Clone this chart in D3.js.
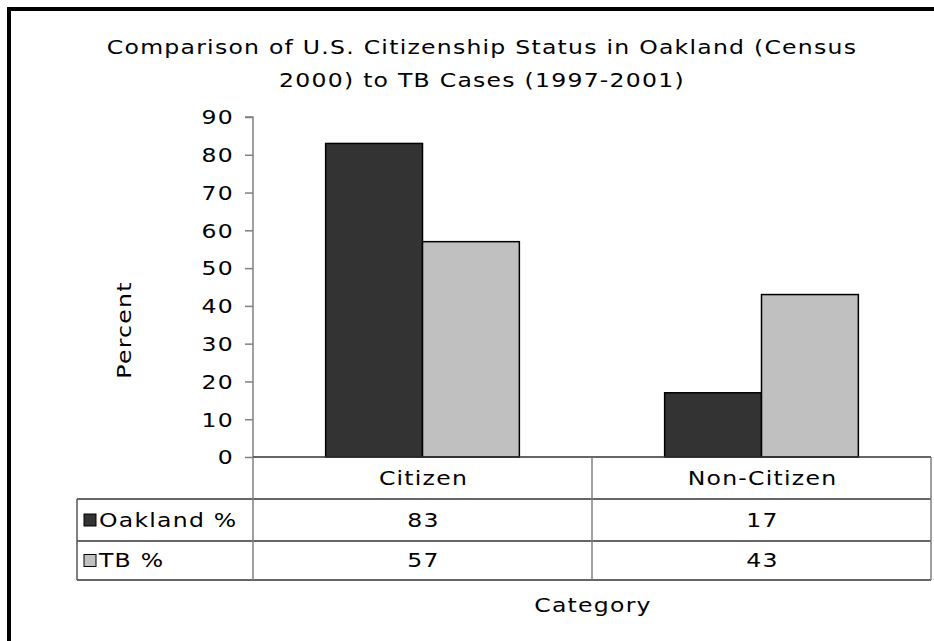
<!DOCTYPE html>
<html>
<head>
<meta charset="utf-8">
<script src="https://cdn.jsdelivr.net/npm/d3@7"></script>
<style>
  body { margin: 0; background: #fff; }
  text { font-family: "DejaVu Sans", Verdana, sans-serif; fill: #000; font-size: 19px; letter-spacing: 1px; }
</style>
</head>
<body>
<div id="chart"></div>
<script>
// Chart data
const categories = ['Citizen', 'Non-Citizen']
const seriesNames = ['Oakland %', 'TB %']
const oakland = [83, 17]
const tb = [57, 43]
const colors = ['#333333', '#c0c0c0']
const yTicks = [0, 10, 20, 30, 40, 50, 60, 70, 80, 90]

var width = 934
var height = 641

// plot area edges
var plotLeft = 253, plotRight = 931, plotTop = 117, plotBottom = 457
var rowH = [42, 42, 39] // category row, then one row per series
var sx = 1.24 // the old chart's text is wide, stretch it sideways

var svg = d3.select('#chart')
  .append('svg')
  .attr('width', width)
  .attr('height', height)

// put a stretched label at x, y
function label(x, y, str, anchor, rot) {
  const g = svg.append('g')
    .attr('transform', `translate(${x},${y})` + (rot ? ` rotate(${rot})` : '') + ` scale(${sx},1)`)
  return g.append('text')
    .attr('text-anchor', anchor || 'start')
    .text(str)
}

// outer frame (runs off the right and bottom of the picture)
svg.append('rect')
  .attr('x', 9).attr('y', 9)
  .attr('width', 960).attr('height', 660)
  .attr('fill', 'none')
  .attr('stroke', '#000')
  .attr('stroke-width', 4)

// title
label(482, 54, 'Comparison of U.S. Citizenship Status in Oakland (Census', 'middle')
label(482, 87, '2000) to TB Cases (1997-2001)', 'middle')

// scales
const xScale = d3.scaleBand()
  .domain(categories)
  .range([plotLeft, plotRight])

const inner = d3.scaleBand()
  .domain(seriesNames)
  .range([0, xScale.bandwidth()])
  .paddingOuter(0.75)
  .paddingInner(0)

const yScale = d3.scaleLinear()
  .domain([0, 90])
  .range([plotBottom, plotTop])

// y axis
const yAxis = d3.axisLeft(yScale)
  .tickValues(yTicks)
  .tickSize(8)
  .tickPadding(4)
const gy = svg.append('g')
  .attr('transform', `translate(${plotLeft},0)`)
  .call(yAxis)
gy.select('.domain').attr('stroke', '#808080').attr('stroke-width', 1.5)
  .attr('d', `M-8,${plotTop}H0V${plotBottom}`)
gy.selectAll('.tick line').attr('stroke', '#808080').attr('stroke-width', 1.5)
gy.selectAll('.tick text')
  .style('font-size', '19px')
  .style('font-family', '"DejaVu Sans", Verdana, sans-serif')
  .attr('fill', '#000')
  .attr('x', -19 / sx)
  .attr('dy', '0.36em')
  .attr('transform', `scale(${sx},1)`)

// y axis title
label(131, 330, 'Percent', 'middle', -90)

// bars
const series = [oakland, tb]
series.forEach((vals, si) => {
  svg.selectAll('.bar' + si)
    .data(categories)
    .enter()
    .append('rect')
    .attr('x', d => xScale(d) + inner(seriesNames[si]))
    .attr('y', (d, i) => yScale(vals[i]))
    .attr('width', inner.bandwidth())
    .attr('height', (d, i) => plotBottom - yScale(vals[i]))
    .attr('fill', colors[si])
    .attr('stroke', '#000')
    .attr('stroke-width', 1.5)
})

// data table
const tableLeft = 77
const y1 = plotBottom + rowH[0]
const y2 = y1 + rowH[1]
const y3 = y2 + rowH[2]
const grid = svg.append('g').attr('stroke-width', 1.5)

grid.append('line')
  .attr('x1', plotLeft).attr('x2', plotRight).attr('y1', plotBottom).attr('y2', plotBottom)
  .attr('stroke', '#333')
;[y1, y2, y3].forEach(y => {
  grid.append('line')
    .attr('x1', tableLeft).attr('x2', plotRight).attr('y1', y).attr('y2', y)
    .attr('stroke', '#333')
})
grid.append('line')
  .attr('x1', plotLeft).attr('x2', plotLeft).attr('y1', plotBottom).attr('y2', y3)
  .attr('stroke', '#808080')
grid.append('line')
  .attr('x1', tableLeft).attr('x2', tableLeft).attr('y1', y1).attr('y2', y3)
  .attr('stroke', '#555')
categories.forEach(c => {
  grid.append('line')
    .attr('x1', xScale(c) + xScale.bandwidth()).attr('x2', xScale(c) + xScale.bandwidth())
    .attr('y1', plotBottom).attr('y2', y3)
    .attr('stroke', '#808080')
})

// category labels
categories.forEach(c => {
  label(xScale(c) + xScale.bandwidth() / 2 + 1, (plotBottom + y1) / 2, c, 'middle')
    .attr('dy', '0.36em')
})

// table rows: legend key + values
const rowTops = [y1, y2]
series.forEach((vals, si) => {
  const mid = rowTops[si] + rowH[si + 1] / 2
  svg.append('rect')
    .attr('x', 84).attr('y', mid - 6)
    .attr('width', 12).attr('height', 12)
    .attr('fill', colors[si])
    .attr('stroke', '#000')
    .attr('stroke-width', 1)
  label(99, mid, seriesNames[si]).attr('dy', '0.36em')
  categories.forEach((c, i) => {
    label(xScale(c) + xScale.bandwidth() / 2 + 1, mid, vals[i], 'middle')
      .attr('dy', '0.36em')
  })
})

// x axis title
label((plotLeft + plotRight) / 2 + 1, 612, 'Category', 'middle')
</script>
</body>
</html>
